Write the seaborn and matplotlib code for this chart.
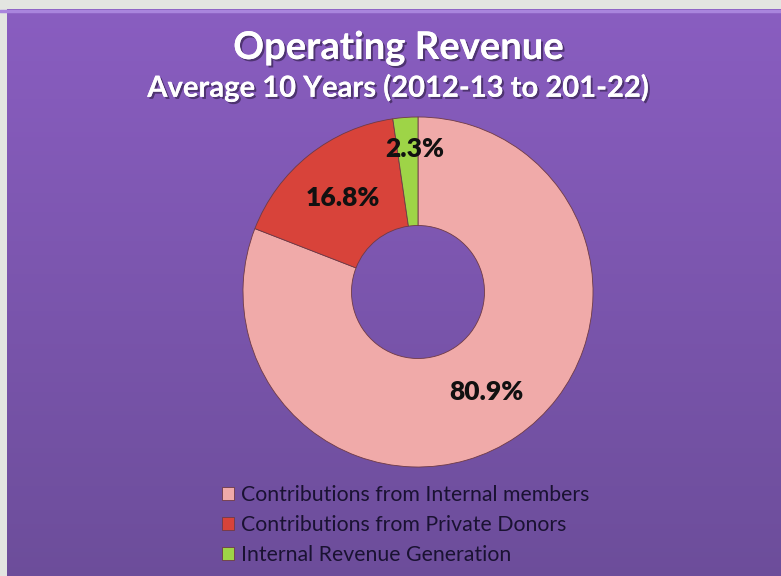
import numpy as np
import matplotlib
matplotlib.use("Agg")
import matplotlib.pyplot as plt
import matplotlib.patheffects as pe
from matplotlib.patches import Rectangle
import seaborn as sns

# ── data ────────────────────────────────────────────────────────────────
categories = [
    "Contributions from Internal members",
    "Contributions from Private Donors",
    "Internal Revenue Generation",
]
shares = [80.9, 16.8, 2.3]

TITLE = "Operating Revenue"
SUBTITLE = "Average 10 Years (2012-13 to 201-22)"

# ── style ───────────────────────────────────────────────────────────────
sns.set_theme(style="white")
plt.rcParams["font.family"] = ["Lato", "DejaVu Sans"]

PALETTE = sns.color_palette(["#f0aaa9", "#d8433a", "#9ed447"])
BG_TOP = np.array([0x89, 0x5d, 0xc0]) / 255
BG_BOTTOM = np.array([0x6c, 0x4d, 0x9a]) / 255
FRAME = "#e3e5e1"

W, H = 781, 576
fig = plt.figure(figsize=(W / 100, H / 100), dpi=100)
fig.patch.set_facecolor(BG_BOTTOM * 0.5 + BG_TOP * 0.5)

# purple slide panel with a soft vertical gradient (stacked thin bands)
bg = fig.add_axes([0, 0, 1, 1], zorder=0)
bg.set_xlim(0, W)
bg.set_ylim(0, H)
top = H - 9
n_bands = 120
edges = np.linspace(0, top, n_bands + 1)
for i in range(n_bands):
    frac = 1 - (i + 0.5) / n_bands
    col = BG_TOP * (1 - frac) + BG_BOTTOM * frac
    bg.add_patch(Rectangle((0, edges[i]), W, edges[i + 1] - edges[i] + 0.6, color=col, lw=0))
bg.axhline(top - 1.5, color="#a985dd", lw=2.5)
# light slide frame on the top and left
bg.add_patch(Rectangle((0, top), W, H - top, color=FRAME, lw=0))
bg.add_patch(Rectangle((0, 0), 7, H, color=FRAME, lw=0))
bg.set_axis_off()

# donut: centre (418, 292) px, outer radius 175 px
cx, cy, r = 418, 292, 175
ax = fig.add_axes([(cx - r) / W, (H - cy - r) / H, 2 * r / W, 2 * r / H], zorder=1)
ax.set_facecolor("none")

wedges, _, autotexts = ax.pie(
    shares,
    colors=PALETTE,
    startangle=90,
    counterclock=False,
    autopct="%.1f%%",
    pctdistance=0.69,
    wedgeprops=dict(width=0.62, edgecolor="#6e3a46", linewidth=0.6),
    textprops=dict(fontsize=19, fontweight="heavy", color="#111111"),
)
# the thin slice's label sits further out, near the rim
x, y = autotexts[2].get_position()
autotexts[2].set_position((x * 0.4, y * 0.82 / 0.69))
ax.set_xlim(-1, 1)
ax.set_ylim(-1, 1)

shadow = [pe.withSimplePatchShadow(offset=(1.5, -1.5), shadow_rgbFace="#2a1a40", alpha=0.6), pe.Normal()]
fig.text(399 / W, 1 - 48 / H, TITLE, ha="center", va="center", fontsize=27.5,
         fontweight="bold", color="white", path_effects=shadow)
fig.text(398 / W, 1 - 88 / H, SUBTITLE, ha="center", va="center", fontsize=21,
         fontweight="bold", color="white", path_effects=shadow)

fig.legend(
    wedges, categories,
    loc="center", bbox_to_anchor=(406 / W, 1 - 525 / H),
    frameon=False, fontsize=15.3, labelcolor="#1a1232",
    handlelength=0.55, handleheight=0.55, handletextpad=0.35, labelspacing=0.48,
)

fig.savefig("out.png", dpi=100, facecolor=fig.get_facecolor())
